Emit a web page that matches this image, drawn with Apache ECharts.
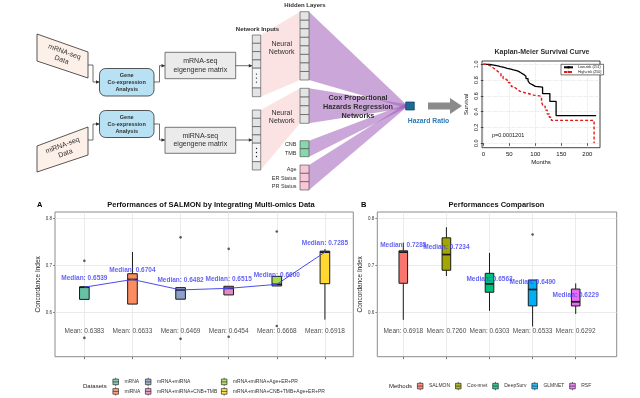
<!DOCTYPE html>
<html>
<head>
<meta charset="utf-8">
<script src="https://cdn.jsdelivr.net/npm/echarts@6/dist/echarts.min.js"></script>
<style>
  html, body { margin: 0; padding: 0; background: #fff; }
  #chart { width: 640px; height: 398px; }
</style>
</head>
<body>
<div id="chart"></div>
<script>
// ---- panel A: SALMON with multi-omics inputs ----
const datasets = ['mRNA', 'miRNA', 'mRNA+miRNA', 'mRNA+miRNA+CNB+TMB', 'mRNA+miRNA+Age+ER+PR', 'mRNA+miRNA+CNB+TMB+Age+ER+PR'];
const datasetColors = ['#66C2A5', '#FC8D62', '#8DA0CB', '#E78AC3', '#A6D854', '#FFD92F'];
// [min, q1, median, q3, max]
const boxA = [
  [0.628, 0.628, 0.6539, 0.6545, 0.6545],
  [0.618, 0.618, 0.6704, 0.6826, 0.729],
  [0.6284, 0.6284, 0.6482, 0.653, 0.653],
  [0.6375, 0.6375, 0.6515, 0.6559, 0.6559],
  [0.6566, 0.6566, 0.66, 0.677, 0.677],
  [0.585, 0.6614, 0.7285, 0.7307, 0.735]
];
const medianA = [0.6539, 0.6704, 0.6482, 0.6515, 0.6600, 0.7285];
const meanA = [0.6383, 0.6633, 0.6469, 0.6454, 0.6668, 0.6918];
// [category index, value]
const outliersA = [[0, 0.710], [0, 0.546], [2, 0.760], [2, 0.544], [3, 0.7356], [3, 0.5485], [4, 0.7725], [4, 0.5712]];

// ---- panel B: method comparison ----
const methods = ['SALMON', 'Cox-nnet', 'DeepSurv', 'GLMNET', 'RSF'];
const methodColors = ['#F8766D', '#A3A500', '#00BF7D', '#00B0F6', '#E76BF3'];
const boxB = [
  [0.5845, 0.6623, 0.7285, 0.7314, 0.749],
  [0.6778, 0.690, 0.7234, 0.759, 0.7816],
  [0.6036, 0.6432, 0.661, 0.6835, 0.727],
  [0.5703, 0.6142, 0.649, 0.6693, 0.6693],
  [0.597, 0.614, 0.6229, 0.650, 0.662]
];
const medianB = [0.7285, 0.7234, 0.6563, 0.6490, 0.6229];
const meanB = [0.6918, 0.7260, 0.6303, 0.6533, 0.6292];
const outliersB = [[3, 0.766]];

// ---- Kaplan-Meier curves ----
const kmMonthsLow = [0, 12, 20, 28, 33, 40, 46, 53, 58, 64, 68, 73, 78, 82, 86, 89, 92, 95, 100, 114, 128, 140, 217];
const kmSurvLow = [1.0, 0.99, 0.98, 0.97, 0.96, 0.95, 0.94, 0.93, 0.92, 0.91, 0.89, 0.87, 0.85, 0.82, 0.79, 0.76, 0.74, 0.72, 0.71, 0.63, 0.53, 0.35, 0.35];
const kmMonthsHigh = [0, 5, 10, 14, 18, 22, 26, 30, 34, 38, 42, 46, 50, 54, 58, 62, 66, 70, 75, 80, 86, 92, 97, 108, 112, 115, 119, 123, 127, 131, 213, 213];
const kmSurvHigh = [1.0, 0.99, 0.98, 0.96, 0.94, 0.92, 0.90, 0.88, 0.85, 0.82, 0.80, 0.77, 0.75, 0.72, 0.70, 0.68, 0.66, 0.65, 0.64, 0.63, 0.62, 0.61, 0.60, 0.59, 0.52, 0.47, 0.42, 0.37, 0.33, 0.29, 0.29, 0.0];
const kmNames = ['Low-risk (251)', 'High-risk (250)'];

const FONT = '"Liberation Sans", Arial, sans-serif';
const ink = '#2f2f2f';
const medianBlue = '#3b3bf2';
const boxIcon = 'path://M4,0L4,2M0,2L8,2L8,10L0,10ZM0,6L8,6M4,10L4,12';

function boxRender(colors) {
  return function (params, api) {
    const x = api.value(0);
    const lo = api.coord([x, api.value(1)]);
    const q1 = api.coord([x, api.value(2)]);
    const md = api.coord([x, api.value(3)]);
    const q3 = api.coord([x, api.value(4)]);
    const hi = api.coord([x, api.value(5)]);
    const w = api.size([0.2, 0])[0];
    const st = { stroke: '#1a1a1a', lineWidth: 1 };
    return {
      type: 'group',
      children: [
        { type: 'line', shape: { x1: lo[0], y1: lo[1], x2: q1[0], y2: q1[1] }, style: st },
        { type: 'line', shape: { x1: q3[0], y1: q3[1], x2: hi[0], y2: hi[1] }, style: st },
        { type: 'rect', shape: { x: q3[0] - w / 2, y: q3[1], width: w, height: q1[1] - q3[1] },
          style: { fill: colors[params.dataIndex], stroke: '#1a1a1a', lineWidth: 1 } },
        { type: 'line', shape: { x1: md[0] - w / 2, y1: md[1], x2: md[0] + w / 2, y2: md[1] },
          style: { stroke: '#1a1a1a', lineWidth: 1.7 } }
      ]
    };
  };
}

function panelSeries(idx, boxes, colors, medians, means, outliers, medOffset, withLine) {
  const list = [
    { type: 'custom', xAxisIndex: idx, yAxisIndex: idx, renderItem: boxRender(colors),
      encode: { x: 0, y: [1, 2, 3, 4, 5] }, z: 2,
      data: boxes.map((b, i) => [i + 1].concat(b)) },
    { type: 'scatter', xAxisIndex: idx, yAxisIndex: idx, symbolSize: 2.6, z: 3,
      itemStyle: { color: '#333' }, data: outliers.map(o => [o[0] + 1, o[1]]) },
    { type: 'scatter', xAxisIndex: idx, yAxisIndex: idx, symbolSize: 1, z: 5,
      itemStyle: { color: 'transparent' },
      label: { show: true, position: 'inside', color: medianBlue, fontWeight: 'bold', fontSize: 6.5,
        fontFamily: FONT, formatter: p => 'Median: ' + medians[p.dataIndex].toFixed(4) },
      data: medians.map((m, i) => [i + 1, m + medOffset]) },
    { type: 'scatter', xAxisIndex: idx, yAxisIndex: idx, symbolSize: 1, z: 5,
      itemStyle: { color: 'transparent' },
      label: { show: true, position: 'inside', color: '#1a1a1a', fontSize: 6.5, fontFamily: FONT,
        formatter: p => 'Mean: ' + means[p.dataIndex].toFixed(4) },
      data: means.map((m, i) => [i + 1, 0.56]) }
  ];
  if (withLine) {
    list.push({ type: 'line', xAxisIndex: idx, yAxisIndex: idx, symbol: 'none', z: 4,
      lineStyle: { color: '#4b4bef', width: 1 }, data: medians.map((m, i) => [i + 1, m]) });
  }
  return list;
}

function boxXAxis(grid, n, min, max) {
  const ticks = [];
  for (let i = 1; i <= n; i++) ticks.push(i);
  return { gridIndex: grid, type: 'value', min: min, max: max,
    axisLine: { show: false }, axisLabel: { show: false, customValues: ticks },
    axisTick: { show: true, length: 2.5, customValues: ticks, lineStyle: { color: '#444', width: 0.7 } },
    splitLine: { show: true, lineStyle: { color: '#e3e3e3', width: 0.7 } } };
}
function boxYAxis(grid) {
  return { gridIndex: grid, type: 'value', min: 0.506, max: 0.814,
    name: 'Concordance Index', nameLocation: 'middle', nameGap: 10, nameRotate: 90,
    nameTextStyle: { fontSize: 6.5, color: '#222', fontFamily: FONT },
    axisLine: { show: false },
    axisTick: { show: true, length: 2, customValues: [0.6, 0.7, 0.8], lineStyle: { color: '#444', width: 0.6 } },
    axisLabel: { fontSize: 4.5, color: '#333', margin: 3, customValues: [0.6, 0.7, 0.8], formatter: v => v.toFixed(1) },
    splitLine: { show: true, lineStyle: { color: '#e3e3e3', width: 0.7 } } };
}

// ---- diagram helpers ----
function label(x, y, text, font, style, el) {
  return Object.assign({ type: 'text', x: x, y: y, silent: true,
    style: Object.assign({ text: text, font: font + ' ' + FONT, fill: ink, align: 'center', verticalAlign: 'middle' }, style || {}) }, el || {});
}
function poly(points, fill, stroke) {
  return { type: 'polygon', silent: true, shape: { points: points },
    style: { fill: fill, stroke: stroke || null, lineWidth: 0.8 } };
}
function wire(points) {
  const end = points[points.length - 1];
  return [
    { type: 'polyline', silent: true, shape: { points: points }, style: { stroke: ink, lineWidth: 0.7, fill: null } },
    poly([[end[0], end[1]], [end[0] - 3.5, end[1] - 1.8], [end[0] - 3.5, end[1] + 1.8]], ink)
  ];
}
function column(x, y0, w, heights, fill, dotsAt) {
  const out = [];
  let y = y0;
  heights.forEach((h, i) => {
    const isDots = i === dotsAt;
    out.push({ type: 'rect', silent: true, shape: { x: x, y: y, width: w, height: h },
      style: { fill: isDots ? '#f6f6f6' : fill, stroke: '#444', lineWidth: 0.6 } });
    if (isDots) {
      for (let k = -1; k <= 1; k++) {
        out.push({ type: 'circle', silent: true, shape: { cx: x + w / 2, cy: y + h / 2 + k * 4, r: 0.7 }, style: { fill: '#222' } });
      }
    }
    y += h;
  });
  return out;
}

const diagram = [].concat(
  // data sources
  [poly([[37, 34], [88, 52], [88, 78], [37, 61]], '#fdf0e8', ink),
   label(63, 56, 'mRNA-seq\nData', '7px', { lineHeight: 8.5 }, { rotation: -0.34 }),
   poly([[37, 146], [88, 127], [88, 155], [37, 172]], '#fdf0e8', ink),
   label(64, 149.5, 'miRNA-seq\nData', '7px', { lineHeight: 8.5 }, { rotation: 0.35 })],
  wire([[88, 65], [93, 65], [93, 82], [99.5, 82]]),
  wire([[88, 140], [93, 140], [93, 124], [99.5, 124]]),
  // co-expression boxes
  [{ type: 'rect', silent: true, shape: { x: 99.5, y: 68.5, width: 54.5, height: 27.5, r: 6 }, style: { fill: '#b9e1f4', stroke: ink, lineWidth: 0.8 } },
   label(126.7, 82.3, 'Gene\nCo-expression\nAnalysis', 'bold 5.5px', { lineHeight: 7 }),
   { type: 'rect', silent: true, shape: { x: 99.5, y: 110.5, width: 54.5, height: 27, r: 6 }, style: { fill: '#b9e1f4', stroke: ink, lineWidth: 0.8 } },
   label(126.7, 124, 'Gene\nCo-expression\nAnalysis', 'bold 5.5px', { lineHeight: 7 })],
  wire([[154, 82], [159.5, 82], [159.5, 65.7], [165, 65.7]]),
  wire([[154, 124], [159.5, 124], [159.5, 140], [165, 140]]),
  // eigengene matrices
  [{ type: 'rect', silent: true, shape: { x: 165, y: 52.3, width: 70.7, height: 26.4 }, style: { fill: '#ebebeb', stroke: '#555', lineWidth: 0.8 } },
   label(200.3, 65.5, 'mRNA-seq\neigengene matrix', '7px', { lineHeight: 8.5 }),
   { type: 'rect', silent: true, shape: { x: 165, y: 127.3, width: 70.7, height: 26 }, style: { fill: '#ebebeb', stroke: '#555', lineWidth: 0.8 } },
   label(200.3, 140.3, 'miRNA-seq\neigengene matrix', '7px', { lineHeight: 8.5 })],
  wire([[235.7, 65.7], [252.3, 65.7]]),
  wire([[235.7, 140], [252.3, 140]]),
  // connection fans
  [poly([[260.7, 35], [300, 11.7], [300, 80], [260.7, 96.7]], 'rgba(248,200,200,0.5)'),
   poly([[260.7, 110], [300, 88.3], [300, 123.3], [260.7, 170]], 'rgba(248,200,200,0.5)'),
   poly([[309, 11.7], [405.7, 104], [405.7, 108], [309, 80]], 'rgba(160,95,185,0.55)'),
   poly([[309, 88.3], [405.7, 104], [405.7, 108], [309, 123.3]], 'rgba(160,95,185,0.55)'),
   poly([[309, 140.7], [405.7, 104], [405.7, 108], [309, 156.7]], 'rgba(160,95,185,0.55)'),
   poly([[309, 165], [405.7, 104], [405.7, 108], [309, 190]], 'rgba(160,95,185,0.55)')],
  // layer columns
  column(252.3, 35, 8.4, [8.3, 8.3, 8.3, 8.3, 19.8, 8.7], '#e4e4e4', 4),
  column(252.3, 110, 8.4, [8.3, 8.3, 8.3, 8.3, 18.5, 8.3], '#e4e4e4', 4),
  column(300, 11.7, 9, [8.54, 8.54, 8.54, 8.54, 8.54, 8.54, 8.54, 8.54], '#e4e4e4', -1),
  column(300, 88.3, 9, [8.75, 8.75, 8.75, 8.75], '#e4e4e4', -1),
  column(300, 140.7, 9, [8, 8], '#86d9ac', -1),
  column(300, 165, 9, [8.33, 8.33, 8.33], '#f7c6d9', -1),
  [label(257.5, 29.3, 'Network Inputs', 'bold 6px'),
   label(305, 5.5, 'Hidden Layers', 'bold 6px'),
   label(281.7, 48.3, 'Neural\nNetwork', '7px', { lineHeight: 8.5 }),
   label(281.7, 117.3, 'Neural\nNetwork', '7px', { lineHeight: 8.5 }),
   label(296.5, 144.5, 'CNB', '5.5px', { align: 'right' }),
   label(296.5, 153, 'TMB', '5.5px', { align: 'right' }),
   label(296.5, 169.5, 'Age', '5.5px', { align: 'right' }),
   label(296.5, 178.2, 'ER Status', '5.5px', { align: 'right' }),
   label(296.5, 186.6, 'PR Status', '5.5px', { align: 'right' }),
   label(358, 107, 'Cox Proportional\nHazards Regression\nNetworks', 'bold 7.3px', { lineHeight: 9.3 }),
   { type: 'rect', silent: true, shape: { x: 405.7, y: 102, width: 8.6, height: 8 }, style: { fill: '#1d6a96', stroke: '#0d3d5a', lineWidth: 0.7 } },
   label(428.5, 121, 'Hazard Ratio', 'bold 6.8px', { fill: '#2e7ab5' }),
   poly([[428, 102.5], [450, 102.5], [450, 98], [462, 106], [450, 114], [450, 109.5], [428, 109.5]], '#8a8a8a'),
   // chart titles and captions
   label(542, 52, 'Kaplan-Meier Survival Curve', 'bold 7px'),
   label(492, 135.5, 'p=0.0001201', '5.5px', { align: 'left', fill: '#111' }),
   label(37, 204.7, 'A', 'bold 7.5px', { align: 'left', fill: '#000' }),
   label(211, 204.7, 'Performances of SALMON by Integrating Multi-omics Data', 'bold 7.5px', { fill: '#111' }),
   label(361, 204.7, 'B', 'bold 7.5px', { align: 'left', fill: '#000' }),
   label(496.5, 204.7, 'Performances Comparison', 'bold 7.5px', { fill: '#111' }),
   label(83, 386, 'Datasets', '6px', { align: 'left', fill: '#222' }),
   label(389, 386, 'Methods', '6px', { align: 'left', fill: '#222' })]
);

const legendBase = { orient: 'vertical', selectedMode: false, icon: boxIcon, itemWidth: 7.5, itemHeight: 8.4,
  itemGap: 0.3, padding: 0, itemStyle: { borderColor: '#222', borderWidth: 0.8 },
  textStyle: { fontSize: 5, color: '#333', fontFamily: FONT } };

const legendSeries = datasets.map((d, i) => ({ type: 'scatter', name: d, data: [], xAxisIndex: 0, yAxisIndex: 0,
  itemStyle: { color: datasetColors[i] } }))
  .concat(methods.map((m, i) => ({ type: 'scatter', name: m, data: [], xAxisIndex: 1, yAxisIndex: 1,
    itemStyle: { color: methodColors[i] } })));

const option = {
  animation: false,
  backgroundColor: '#fff',
  textStyle: { fontFamily: FONT },
  grid: [
    { left: 55, right: 286.7, top: 212, bottom: 41.3, show: true, borderColor: '#8c8c8c', borderWidth: 1 },
    { left: 377.3, right: 23.3, top: 212, bottom: 41.3, show: true, borderColor: '#8c8c8c', borderWidth: 1 },
    { left: 482, right: 40, top: 61, bottom: 250.3, show: true, borderColor: '#111', borderWidth: 0.8 }
  ],
  xAxis: [
    boxXAxis(0, datasets.length, 0.39, 6.59),
    boxXAxis(1, methods.length, 0.397, 5.951),
    { gridIndex: 2, type: 'value', min: -2.5, max: 224.4,
      name: 'Months', nameLocation: 'middle', nameGap: 12,
      nameTextStyle: { fontSize: 6, color: '#111', fontFamily: FONT },
      axisLine: { show: false },
      axisTick: { show: true, length: 2.5, customValues: [0, 50, 100, 150, 200], lineStyle: { color: '#111', width: 0.7 } },
      axisLabel: { fontSize: 6, color: '#111', margin: 3.5, customValues: [0, 50, 100, 150, 200] },
      splitLine: { show: true, lineStyle: { color: '#d4d4d4', width: 0.6, type: 'dotted' } } }
  ],
  yAxis: [
    boxYAxis(0),
    boxYAxis(1),
    { gridIndex: 2, type: 'value', min: -0.056, max: 1.042,
      name: 'Survival', nameLocation: 'middle', nameGap: 13, nameRotate: 90,
      nameTextStyle: { fontSize: 6, color: '#111', fontFamily: FONT },
      axisLine: { show: false },
      axisTick: { show: true, length: 2.5, customValues: [0, 0.2, 0.4, 0.6, 0.8, 1.0], lineStyle: { color: '#111', width: 0.7 } },
      axisLabel: { fontSize: 5.5, color: '#111', margin: 2.5, rotate: 90,
        customValues: [0, 0.2, 0.4, 0.6, 0.8, 1.0], formatter: v => v.toFixed(1) },
      splitLine: { show: true, lineStyle: { color: '#d4d4d4', width: 0.6, type: 'dotted' } } }
  ],
  legend: [
    Object.assign({}, legendBase, { left: 112.5, top: 377.3, data: datasets.slice(0, 2) }),
    Object.assign({}, legendBase, { left: 145, top: 377.3, data: datasets.slice(2, 4) }),
    Object.assign({}, legendBase, { left: 221, top: 377.3, data: datasets.slice(4, 6) }),
    Object.assign({}, legendBase, { orient: 'horizontal', left: 417, top: 381.5, itemGap: 5, data: methods }),
    { orient: 'vertical', selectedMode: false, left: 561, top: 64.3, data: kmNames,
      itemWidth: 9, itemHeight: 3, itemGap: 0.6, padding: [1, 2, 1, 2],
      borderColor: '#111', borderWidth: 0.6, backgroundColor: '#fff',
      textStyle: { fontSize: 3.6, color: '#111', fontFamily: FONT } }
  ],
  graphic: diagram,
  series: [].concat(
    panelSeries(0, boxA, datasetColors, medianA, meanA, outliersA, 0.02, true),
    panelSeries(1, boxB, methodColors, medianB, meanB, outliersB, 0.015, false),
    [
      { type: 'line', name: kmNames[0], xAxisIndex: 2, yAxisIndex: 2, step: 'end', symbol: 'none',
        lineStyle: { color: '#000', width: 1.3 }, itemStyle: { color: '#000' },
        data: kmMonthsLow.map((t, i) => [t, kmSurvLow[i]]) },
      { type: 'line', name: kmNames[1], xAxisIndex: 2, yAxisIndex: 2, step: 'end', symbol: 'none',
        lineStyle: { color: '#e31a1c', width: 1.4, type: [3, 2] }, itemStyle: { color: '#e31a1c' },
        data: kmMonthsHigh.map((t, i) => [t, kmSurvHigh[i]]) }
    ],
    legendSeries
  )
};

const chart = echarts.init(document.getElementById('chart'), null, { renderer: 'canvas' });
chart.setOption(option);
</script>
</body>
</html>
